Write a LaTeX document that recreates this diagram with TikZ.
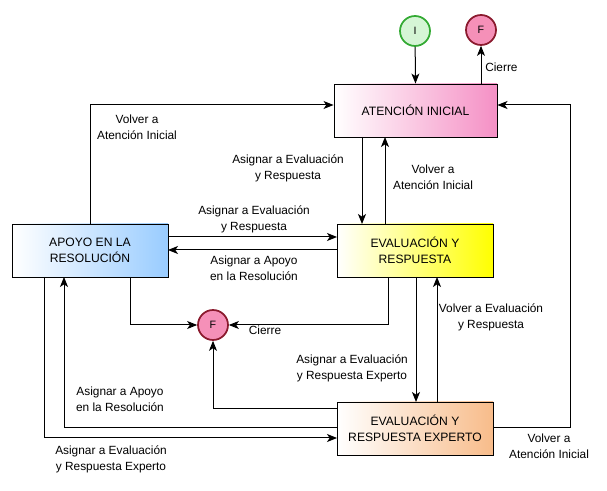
\documentclass[tikz,border=0pt]{standalone}
\usepackage{fontspec}
\setmainfont{Liberation Sans}
\usetikzlibrary{arrows.meta}
\definecolor{pinkR}{HTML}{F590C5}
\definecolor{blueR}{HTML}{99CCFF}
\definecolor{yellowR}{HTML}{FFFF00}
\definecolor{orangeR}{HTML}{F8BC8A}
\definecolor{greenF}{HTML}{D5F5D5}
\definecolor{greenD}{HTML}{33AA33}
\definecolor{redF}{HTML}{F590B8}
\definecolor{redD}{HTML}{8B1A2E}
\begin{document}
\begin{tikzpicture}[x=0.75pt,y=-0.75pt,
  state/.style={draw=black, line width=0.7pt, minimum width=156*0.75pt, minimum height=53*0.75pt, inner sep=0pt, align=center, font=\fontsize{9.1}{12}\selectfont},
  startc/.style={circle, draw=greenD, fill=greenF, line width=1.3pt, minimum size=30*0.75pt, inner sep=0pt, font=\fontsize{8}{10}\selectfont},
  endc/.style={circle, draw=redD, fill=redF, line width=1.3pt, minimum size=30*0.75pt, inner sep=0pt, font=\fontsize{8}{10}\selectfont},
  lbl/.style={align=center, font=\fontsize{8.9}{12}\selectfont, inner sep=0pt},
  conn/.style={draw=black, line width=0.75pt, -{Stealth[length=7.5pt,width=6pt,inset=2pt]}},
  plain/.style={draw=black, line width=0.75pt}]
\useasboundingbox (0,0) rectangle (607,491);
\fill[white] (0,0) rectangle (607,491);

\node[state, left color=white, right color=pinkR, minimum width=163*0.75pt] (at) at (415.5,110.5) {ATENCIÓN INICIAL};
\node[state, left color=white, right color=blueR] (ap) at (90,250.5) {APOYO EN LA\\RESOLUCIÓN};
\node[state, left color=white, right color=yellowR] (ev) at (415,250.5) {EVALUACIÓN Y\\RESPUESTA};
\node[state, left color=white, right color=orangeR] (ex) at (415,428.5) {EVALUACIÓN Y\\RESPUESTA EXPERTO};

\node[startc] (i) at (415,31) {I};
\node[endc] (f1) at (481,30) {F};
\node[endc] (f2) at (213,325) {F};

% I -> Atencion
\draw[conn] (i) -- (at.north);
% Atencion -> F
\draw[conn] (at.north -| f1) -- (f1);
\node[lbl, anchor=west] at (485,67) {Cierre};

% Apoyo -> Atencion
\coordinate (c1) at (90,105);
\draw[conn] (ap.north) -- (c1) -- (c1 -| at.west);
\node[lbl] at (137,127) {Volver a\\Atención Inicial};

% Atencion -> Evaluacion
\draw[conn] (362,137) -- (362,224);
\node[lbl] at (288,168) {Asignar a Evaluación\\y Respuesta};

% Evaluacion -> Atencion
\draw[conn] (385,224) -- (385,137);
\node[lbl] at (433,177) {Volver a\\Atención Inicial};

% Apoyo -> Evaluacion
\draw[conn] (168,237) -- (337,237);
\node[lbl] at (254,219) {Asignar a Evaluación\\y Respuesta};

% Evaluacion -> Apoyo
\draw[conn] (337,250) -- (168,250);
\node[lbl] at (254,268) {Asignar a Apoyo\\en la Resolución};

% Apoyo -> F2
\draw[conn] (130,277) |- (f2.west);
% Evaluacion -> F2
\draw[conn] (388,277) |- (f2.east);
\node[lbl] at (265,330) {Cierre};

% Evaluacion -> Experto
\draw[conn] (416,277) -- (416,402);
\node[lbl] at (352,368) {Asignar a Evaluación\\y Respuesta Experto};

% Experto -> Evaluacion
\draw[conn] (437,402) -- (437,277);
\node[lbl] at (491,317) {Volver a Evaluación\\y Respuesta};

% Experto -> F2
\draw[conn] (337,409) -| (f2.south);

% Experto -> Apoyo
\draw[conn] (337,428) -| (64,277);
\node[lbl] at (120,399) {Asignar a Apoyo\\en la Resolución};

% Apoyo -> Experto
\draw[conn] (44,277) |- (337,438);
\node[lbl] at (111,459) {Asignar a Evaluación\\y Respuesta Experto};

% Experto -> Atencion
\coordinate (c2) at (570,105);
\draw[conn] (493,428) -| (c2) -- (c2 -| at.east);
\node[lbl] at (549,446) {Volver a\\Atención Inicial};
\end{tikzpicture}
\end{document}
